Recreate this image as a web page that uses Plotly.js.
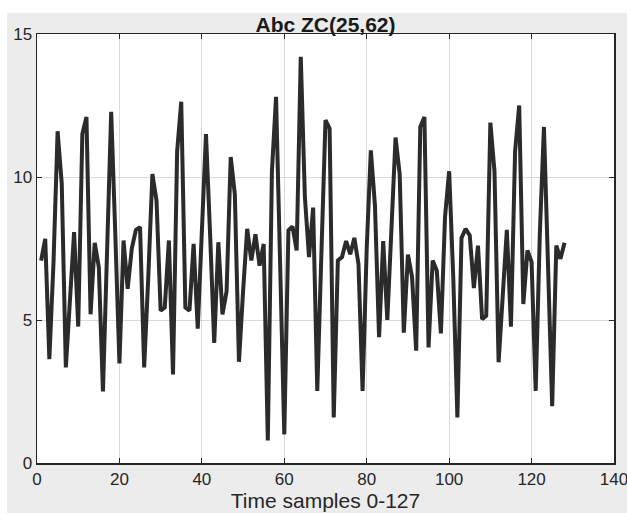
<!DOCTYPE html>
<html>
<head>
<meta charset="utf-8">
<script src="https://cdn.plot.ly/plotly-3.0.1.min.js"></script>
<style>
  html, body { margin: 0; padding: 0; background: #ffffff; width: 627px; height: 513px; overflow: hidden; }
  #chart { position: absolute; left: 7px; top: 13px; width: 620px; height: 500px; }
</style>
</head>
<body>
<div id="chart"></div>
<script>
// Signal values for time samples 0-127 (plotted at positions 1..128)
const signalValues = [
  7.08, 7.84, 3.63, 7.0, 11.6, 9.77, 3.34, 5.7, 8.07, 4.77,
  11.5, 12.1, 5.2, 7.7, 6.85, 2.5, 7.5, 12.28, 8.0, 3.48,
  7.78, 6.09, 7.5, 8.15, 8.25, 3.34, 6.5, 10.1, 9.18, 5.33,
  5.44, 7.78, 3.1, 10.9, 12.63, 5.44, 5.33, 7.66, 4.7, 8.0,
  11.5, 8.0, 4.2, 7.72, 5.2, 6.0, 10.7, 9.4, 3.54, 6.0,
  8.19, 7.08, 8.0, 6.9, 7.66, 0.79, 10.2, 12.8, 6.9, 1.0,
  8.13, 8.27, 7.43, 14.2, 9.3, 7.2, 8.93, 2.52, 7.3, 11.99,
  11.7, 1.59, 7.08, 7.2, 7.76, 7.3, 7.87, 6.96, 2.52, 7.5,
  10.93, 9.0, 4.4, 7.76, 5.0, 8.5, 11.38, 10.1, 4.56, 7.29,
  6.5, 3.93, 11.75, 12.1, 4.04, 7.08, 6.73, 4.53, 8.6, 10.2,
  6.5, 1.59, 7.87, 8.19, 7.96, 6.12, 7.6, 5.03, 5.15, 11.9,
  10.2, 3.52, 6.0, 8.15, 4.77, 10.9, 12.5, 5.56, 7.43, 7.03,
  2.52, 8.0, 11.75, 7.0, 1.99, 7.6, 7.14, 7.7
];
const xTickValues = [0, 20, 40, 60, 80, 100, 120, 140];
const yTickValues = [0, 5, 10, 15];
const chartTitle = 'Abc ZC(25,62)';
const xAxisTitle = 'Time samples 0-127';

const samplePositions = signalValues.map((_, i) => i + 1);

const axisCommon = {
  showline: true,
  mirror: 'ticks',
  linecolor: '#262626',
  linewidth: 1.5,
  ticks: 'inside',
  ticklen: 5,
  tickwidth: 1,
  tickcolor: '#262626',
  showgrid: true,
  gridcolor: '#d9d9d9',
  gridwidth: 1,
  zeroline: false,
  ticklabeloverflow: 'allow',
  tickfont: { family: 'Liberation Sans, Arial, sans-serif', size: 17, color: '#262626' },
  fixedrange: true
};

const trace = {
  x: samplePositions,
  y: signalValues,
  type: 'scatter',
  mode: 'lines',
  line: { color: '#2b2b2b', width: 4, shape: 'linear' },
  hoverinfo: 'skip',
  cliponaxis: false
};

const layout = {
  width: 620,
  height: 500,
  margin: { l: 30, r: 13, t: 21, b: 50 },
  paper_bgcolor: '#ececec',
  plot_bgcolor: '#ffffff',
  showlegend: false,
  title: {
    text: chartTitle,
    font: { family: 'Liberation Sans, Arial, sans-serif', size: 21, color: '#1a1a1a', weight: 'bold' },
    x: 0.5, xref: 'paper', xanchor: 'center',
    y: 0.976, yref: 'container', yanchor: 'middle'
  },
  xaxis: Object.assign({}, axisCommon, {
    range: [0, 140],
    tickmode: 'array',
    tickvals: xTickValues,
    ticktext: xTickValues.map(String),
    title: { text: xAxisTitle, font: { family: 'Liberation Sans, Arial, sans-serif', size: 21, color: '#262626' }, standoff: 5 }
  }),
  yaxis: Object.assign({}, axisCommon, {
    range: [0, 15],
    tickmode: 'array',
    tickvals: yTickValues,
    ticktext: yTickValues.map(String)
  })
};

Plotly.newPlot('chart', [trace], layout, { displayModeBar: false, staticPlot: true });
</script>
</body>
</html>
